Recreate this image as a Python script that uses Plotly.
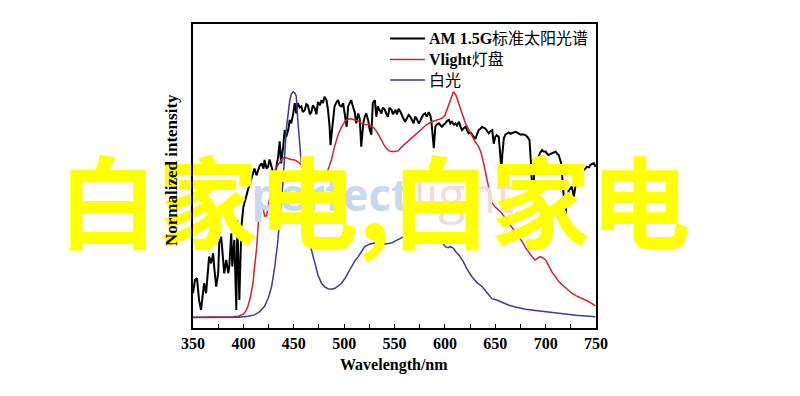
import plotly.graph_objects as go

# ---------------- data ----------------
am15_wl = [350, 352, 354, 356, 358, 360, 361, 363, 365, 366, 368, 370, 371, 373, 375, 376, 378, 380, 381, 383,
           385, 386, 388, 389, 391, 393, 394, 396, 398, 400, 402, 404.5, 407, 409.5, 411, 413, 414.5, 416, 418, 420,
           421, 423, 424.5, 426, 427.5, 429, 430.5, 432.5, 434.5, 436, 437.5, 439.5, 441, 442.5, 444.5, 446, 447.5,
           449.5, 451, 452.5, 454, 456, 457.5, 459, 461, 462.5, 464, 466, 467.5, 469, 471, 472.5, 474, 476, 477.5,
           479, 480.5, 482.5, 484, 485.5, 486.5, 488, 489, 490.5, 492, 494, 495.5, 497.5, 499, 500.5, 502.5, 504,
           505.5, 507, 509, 510.5, 512, 514, 515.5, 517, 519, 520.5, 522, 524, 525.5, 527, 528.5, 530.5, 532, 533.5,
           535, 537, 538.5, 540.5, 542, 543.5, 545, 547, 548.5, 550, 551, 552.5, 554, 556, 557.5, 559, 560.5, 562,
           564, 565.5, 567.5, 569, 570.5, 572, 574, 575.5, 577.5, 579, 580.5, 582, 584, 585.5, 586.5, 588, 589,
           590.5, 592, 594, 595.5, 597, 599, 600.5, 602, 604, 605.5, 607, 609, 610.5, 612, 614, 615.5, 617, 619,
           620.5, 622, 623.5, 625.5, 627, 628.5, 630.5, 632, 633.5, 635, 637, 638.5, 640, 642, 643.5, 645, 647,
           648.5, 650, 651.5, 653.5, 655, 656, 657, 658.5, 660, 661.5, 663.5, 665, 666.5, 668, 670, 671.5, 673.5,
           675, 677, 680, 682, 684, 685.5, 687, 688.5, 689, 691, 693, 694.5, 696.5, 698, 700, 701.5, 703, 705,
           706.5, 708, 710, 711.5, 713, 715.5, 717, 718.5, 719.5, 721, 723, 724.5, 726, 728, 729.5, 731, 733,
           734.5, 736, 738, 739.5, 741, 743, 744.5, 746, 748, 749.5]
am15_val = [0.108, 0.167, 0.174, 0.078, 0.034, 0.123, 0.152, 0.108, 0.226, 0.27, 0.24, 0.285, 0.226, 0.137, 0.196,
            0.33, 0.358, 0.226, 0.196, 0.255, 0.196, 0.226, 0.373, 0.226, 0.344, 0.034, 0.432, 0.078, 0.40, 0.49,
            0.53, 0.565, 0.60, 0.64, 0.66, 0.63, 0.654, 0.67, 0.683, 0.66, 0.698, 0.66, 0.668, 0.70, 0.676, 0.65,
            0.61, 0.668, 0.712, 0.78, 0.683, 0.757, 0.83, 0.80, 0.83, 0.875, 0.86, 0.904, 0.95, 0.904, 0.95, 0.93,
            0.935, 0.91, 0.92, 0.945, 0.94, 0.90, 0.91, 0.94, 0.925, 0.90, 0.955, 0.94, 0.963, 0.95, 0.978, 0.963,
            0.92, 0.85, 0.764, 0.83, 0.875, 0.935, 0.95, 0.963, 0.94, 0.935, 0.95, 0.904, 0.845, 0.935, 0.95, 0.963,
            0.93, 0.91, 0.86, 0.904, 0.88, 0.757, 0.86, 0.89, 0.904, 0.87, 0.83, 0.81, 0.95, 0.963, 0.89, 0.935,
            0.92, 0.904, 0.93, 0.92, 0.90, 0.89, 0.93, 0.92, 0.90, 0.91, 0.92, 0.90, 0.925, 0.91, 0.89, 0.88, 0.867,
            0.88, 0.897, 0.89, 0.875, 0.86, 0.89, 0.88, 0.86, 0.87, 0.89, 0.90, 0.904, 0.89, 0.91, 0.895, 0.875,
            0.816, 0.75, 0.845, 0.855, 0.86, 0.85, 0.845, 0.855, 0.86, 0.87, 0.875, 0.86, 0.867, 0.855, 0.86, 0.85,
            0.867, 0.845, 0.83, 0.84, 0.845, 0.83, 0.816, 0.82, 0.81, 0.80, 0.794, 0.81, 0.83, 0.835, 0.845, 0.84,
            0.838, 0.825, 0.816, 0.825, 0.83, 0.77, 0.80, 0.808, 0.80, 0.72, 0.654, 0.72, 0.794, 0.81, 0.816, 0.82,
            0.814, 0.816, 0.82, 0.823, 0.82, 0.816, 0.81, 0.812, 0.808, 0.80, 0.786, 0.683, 0.535, 0.62, 0.683,
            0.70, 0.712, 0.73, 0.742, 0.735, 0.735, 0.725, 0.72, 0.725, 0.727, 0.73, 0.735, 0.725, 0.72, 0.683,
            0.60, 0.50, 0.447, 0.52, 0.565, 0.57, 0.58, 0.535, 0.58, 0.624, 0.645, 0.66, 0.655, 0.654, 0.66, 0.668,
            0.665, 0.676, 0.68, 0.683, 0.668]

vlight_wl = [350, 370, 390, 395, 398, 400, 402.5, 404.5, 407, 409.5, 411, 413, 415, 416.5, 418, 419.5, 421, 423,
             425, 427, 429.5, 432, 435, 438, 441, 444, 447, 451, 454, 457.5, 461, 464, 467.5, 471, 474, 477.5, 481,
             484, 487.5, 490.5, 494, 497.5, 501, 504, 507, 510.5, 514, 517, 521, 525.5, 529.5, 533.5, 537, 540.5,
             544, 547, 550, 553.5, 557.5, 562, 567.5, 572, 577.5, 582, 587, 592, 597, 600, 602, 604, 606, 608.5,
             611, 613.5, 617, 620.5, 624, 627, 630.5, 633.5, 636, 638.5, 641, 643.5, 646.5, 650, 653.5, 656.5, 660,
             665, 670, 673.5, 677, 680, 683, 686.5, 689.5, 692, 694.5, 697, 700, 703, 706.5, 710, 713, 716.5, 720,
             723, 726, 730, 735, 739.5, 745, 749.5]
vlight_val = [0.002, 0.002, 0.004, 0.006, 0.01, 0.015, 0.03, 0.05, 0.09, 0.15, 0.22, 0.30, 0.43, 0.50, 0.505, 0.49,
              0.45, 0.45, 0.50, 0.56, 0.62, 0.66, 0.68, 0.70, 0.71, 0.705, 0.70, 0.698, 0.69, 0.676, 0.655, 0.64,
              0.63, 0.624, 0.62, 0.624, 0.635, 0.654, 0.70, 0.757, 0.81, 0.845, 0.87, 0.878, 0.88, 0.875, 0.87,
              0.86, 0.855, 0.853, 0.84, 0.816, 0.785, 0.757, 0.74, 0.735, 0.735, 0.738, 0.757, 0.775, 0.794, 0.815,
              0.838, 0.855, 0.867, 0.875, 0.882, 0.895, 0.919, 0.945, 0.975, 1.0, 0.985, 0.949, 0.905, 0.86, 0.83,
              0.80, 0.775, 0.757, 0.73, 0.683, 0.63, 0.58, 0.51, 0.49, 0.475, 0.462, 0.44, 0.41, 0.38, 0.358, 0.335,
              0.31, 0.29, 0.27, 0.255, 0.262, 0.27, 0.265, 0.255, 0.23, 0.20, 0.18, 0.16, 0.145, 0.13, 0.118, 0.108,
              0.097, 0.088, 0.078, 0.065, 0.052]

white_wl = [350, 380, 395, 400, 405, 411, 416, 421, 425, 428, 431, 434, 437, 439.5, 442.5, 444.5, 446, 447.5, 449.5,
            451, 452.5, 454, 456, 457.5, 460, 463, 465, 467.5, 471, 474, 477.5, 481, 484, 487.5, 491, 494, 497.5,
            501, 504, 507, 510.5, 514, 517, 520.5, 525, 530.5, 535, 540, 544, 547, 551, 555, 560, 564, 568.5, 572,
            575.5, 580, 584, 587, 592, 596, 600.5, 603, 605.5, 608.5, 611, 614, 618, 622, 627, 632, 637, 641, 645,
            647, 651.5, 657, 663, 670, 680, 690, 695, 700, 705, 712, 720, 730, 740, 749.5]
white_val = [0.0, 0.0, 0.002, 0.004, 0.006, 0.012, 0.025, 0.05, 0.09, 0.137, 0.22, 0.33, 0.48, 0.61, 0.83, 0.92,
             0.96, 0.99, 1.0, 0.995, 0.98, 0.875, 0.757, 0.683, 0.58, 0.45, 0.37, 0.30, 0.24, 0.19, 0.152, 0.135,
             0.128, 0.126, 0.13, 0.14, 0.152, 0.175, 0.20, 0.226, 0.25, 0.27, 0.29, 0.314, 0.325, 0.33, 0.328,
             0.326, 0.328, 0.33, 0.34, 0.35, 0.36, 0.366, 0.366, 0.37, 0.373, 0.368, 0.366, 0.366, 0.355, 0.34,
             0.314, 0.31, 0.314, 0.307, 0.29, 0.277, 0.25, 0.215, 0.18, 0.155, 0.137, 0.115, 0.09, 0.083, 0.078,
             0.066, 0.056, 0.047, 0.037, 0.031, 0.028, 0.027, 0.024, 0.019, 0.015, 0.01, 0.007, 0.004]

series_names = ["<b>AM 1.5G</b>标准太阳光谱", "<b>Vlight</b>灯盘", "白光"]
series_colors = ["#000000", "#d8202a", "#3b3a98"]
series_widths = [2, 1.5, 1.5]
x_ticks = [350, 400, 450, 500, 550, 600, 650, 700, 750]
x_title = "Wavelength/nm"
y_title = "Normalized intensity"
overlay_text = "白家电,白家电"
watermark_a = "perfect"
watermark_b = "light"

# ---------------- layout helpers (pixel -> paper) ----------------
PL, PR, PT, PB = 193, 596, 24, 328
def px(x):
    return (x - PL) / (PR - PL)
def py(y):
    return (PB - y) / (PB - PT)

SERIF = "Liberation Serif, Times New Roman, serif"
fig = go.Figure()
series = [(am15_wl, am15_val), (vlight_wl, vlight_val), (white_wl, white_val)]
for (xs, ys), name, col, w in zip(series, series_names, series_colors, series_widths):
    fig.add_trace(go.Scatter(x=xs, y=ys, mode="lines", name=name, showlegend=False,
                             line=dict(color=col, width=w)))

# faint watermark
fig.add_trace(go.Scatter(x=[565.5], y=[0.52], mode="text", text=[watermark_a], textposition="middle left",
                         textfont=dict(family="Open Sans, sans-serif", size=44, color="#c9d9ec", weight="bold"),
                         showlegend=False, hoverinfo="skip", cliponaxis=False))
fig.add_trace(go.Scatter(x=[568.5], y=[0.52], mode="text", text=[watermark_b], textposition="middle right",
                         textfont=dict(family="Open Sans, sans-serif", size=50, color="#f3dcd4"),
                         showlegend=False, hoverinfo="skip", cliponaxis=False))
# big yellow overlay
fig.add_trace(go.Scatter(x=[530], y=[0.45], mode="text", text=[overlay_text], textposition="middle center",
                         textfont=dict(family="Noto Sans CJK SC", size=100, color="#ffff00", weight="bold"),
                         showlegend=False, hoverinfo="skip", cliponaxis=False))

# manual legend
legend_rows_y = [38.5, 59.5, 80]
shapes = []
annotations = []
for name, col, w, yy in zip(series_names, series_colors, series_widths, legend_rows_y):
    shapes.append(dict(type="line", xref="paper", yref="paper", x0=px(390), x1=px(425), y0=py(yy), y1=py(yy),
                       line=dict(color=col, width=w)))
    annotations.append(dict(text=name, xref="paper", yref="paper", x=px(427), y=py(yy), xanchor="left",
                            yanchor="middle", showarrow=False,
                            font=dict(family=SERIF + ", Noto Sans CJK SC", size=16, color="#000")))

annotations += [
    dict(text=x_title, xref="paper", yref="paper", x=px(394), y=py(365), xanchor="center", yanchor="middle",
         showarrow=False, font=dict(family=SERIF, size=16, color="#000", weight="bold")),
    dict(text=y_title, xref="paper", yref="paper", x=px(171), y=py(170), xanchor="center", yanchor="middle",
         textangle=-90, showarrow=False, font=dict(family=SERIF, size=17, color="#000", weight="bold")),
]

fig.update_layout(
    width=800, height=396,
    margin=dict(l=PL, r=800 - PR, t=PT, b=396 - PB),
    paper_bgcolor="white", plot_bgcolor="white",
    showlegend=False,
    xaxis=dict(range=[350, 750], tickvals=x_ticks, ticks="inside", ticklen=4, tickwidth=1.2,
               tickcolor="#000", showline=True, linecolor="#000", linewidth=1.5, mirror=True,
               showgrid=False, zeroline=False, ticklabelstandoff=0,
               tickfont=dict(family=SERIF, size=16, color="#000", weight="bold"),
               minor=dict(dtick=25, ticks="inside", ticklen=4, tickwidth=1.2, tickcolor="#000", showgrid=False)),
    yaxis=dict(range=[-0.046, 1.30], showticklabels=False, ticks="", showline=True, linecolor="#000",
               linewidth=1.5, mirror=True, showgrid=False, zeroline=False),
    shapes=shapes,
    annotations=annotations,
)

fig.write_html("out.html", config={"displayModeBar": False},
               post_script="document.body.style.margin='0';document.body.style.overflow='hidden';")
